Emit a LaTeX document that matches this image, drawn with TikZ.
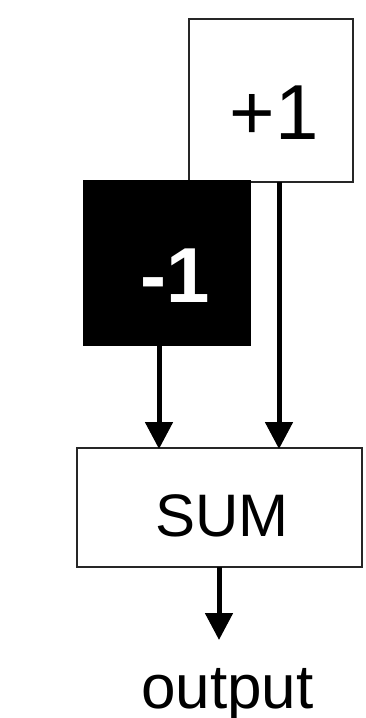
\documentclass[tikz,border=0pt]{standalone}
\usepackage{fontspec}
\setmainfont{Liberation Sans}
\usetikzlibrary{arrows.meta}
\begin{document}
\begin{tikzpicture}[x=1pt,y=-1pt,
  box/.style={draw=black!85,line width=1.5pt,inner sep=0pt,outer sep=0pt},
  lbl/.style={inner sep=0pt,anchor=base},
  arr/.style={line width=5pt,-{Triangle[width=27pt,length=27pt]},shorten >=-1pt}]
\useasboundingbox (0,0) rectangle (365,718);
\node[box,minimum width=164pt,minimum height=163pt] (plus) at (271,100.5) {};
\node[box,draw=black,fill=black,minimum width=166pt,minimum height=164pt] (minus) at (167,263) {};
\node[box,minimum width=285pt,minimum height=119pt] (sum) at (219.5,507.5) {};
\node[lbl,font=\fontsize{78}{94}\selectfont] (plustxt) at (274,139) {+1};
\node[lbl,text=white,font=\fontsize{78}{94}\selectfont\bfseries] (minustxt) at (175,302) {-1};
\node[lbl,font=\fontsize{60}{72}\selectfont] (sumtxt) at (222,536) {SUM};
\node[lbl,font=\fontsize{62}{74}\selectfont] (out) at (227.5,708) {output};
\coordinate (xl) at (159,0);
\coordinate (xr) at (279,0);
\coordinate (xo) at (219,0);
\coordinate (outtip) at (219,639);
\draw[arr] (minus.south -| xl) -- (sum.north -| xl);
\draw[arr] (plus.south -| xr) -- (sum.north -| xr);
\draw[arr] (sum.south -| xo) -- (outtip);
\end{tikzpicture}
\end{document}
